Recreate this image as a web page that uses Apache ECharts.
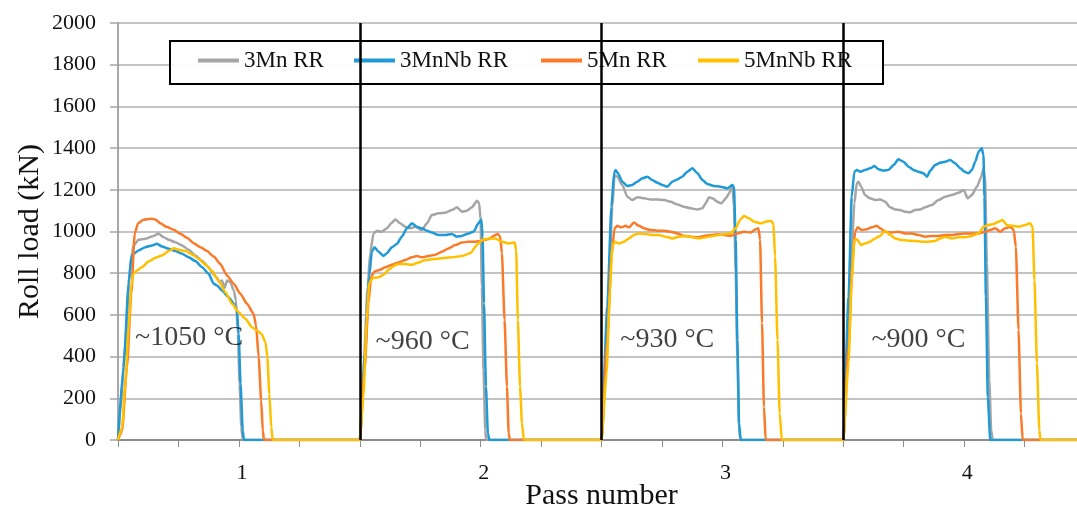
<!DOCTYPE html>
<html><head><meta charset="utf-8">
<script src="https://cdn.jsdelivr.net/npm/echarts@6/dist/echarts.min.js"></script>
<style>html,body{margin:0;padding:0;background:#fff}#c{width:1077px;height:516px}</style>
</head><body><div id="c"></div>
<script>
const seriesNames = ['3Mn RR', '3MnNb RR', '5Mn RR', '5MnNb RR'];
const passLabels = ['1', '2', '3', '4'];
const passBoundaries = [1.5, 2.5, 3.5];
const tempLabels = ['~1050 °C', '~960 °C', '~930 °C', '~900 °C'];
const tempX = [0.794, 1.760, 2.772, 3.811];
const tempY = [489, 470, 480, 480];

// 3Mn RR (grey)
const gray1 = [[0.5,0],[0.51,150],[0.53,450],[0.548,800],[0.558,900],[0.565,933],[0.585,960],[0.613,965],[0.641,976],[0.668,989],[0.689,973],[0.710,960],[0.737,949],[0.765,933],[0.792,912],[0.820,885],[0.848,858],[0.875,829],[0.896,794],[0.910,778],[0.919,757],[0.930,765],[0.941,730],[0.951,765],[0.965,757],[0.979,717],[0.988,669],[0.996,509],[1.003,269],[1.010,61],[1.016,0]];
const gray2 = [[1.5,0],[1.515,336],[1.533,736],[1.543,896],[1.557,991],[1.571,1004],[1.591,999],[1.612,1015],[1.630,1039],[1.647,1058],[1.667,1039],[1.688,1023],[1.709,1015],[1.729,1023],[1.757,1007],[1.778,1039],[1.798,1079],[1.826,1087],[1.854,1090],[1.881,1103],[1.902,1116],[1.923,1095],[1.943,1100],[1.964,1116],[1.985,1148],[1.994,1135],[2.000,1055],[2.005,736],[2.012,336],[2.019,48],[2.023,0]];
const gray3 = [[2.5,0],[2.527,640],[2.545,1119],[2.554,1271],[2.565,1263],[2.586,1223],[2.607,1167],[2.627,1151],[2.648,1164],[2.676,1159],[2.703,1154],[2.731,1154],[2.759,1151],[2.786,1143],[2.814,1130],[2.841,1119],[2.869,1111],[2.897,1106],[2.917,1111],[2.931,1135],[2.945,1164],[2.959,1159],[2.979,1143],[2.996,1135],[3.014,1159],[3.028,1183],[3.041,1223],[3.048,1119],[3.055,800],[3.062,400],[3.069,60],[3.074,0]];
const gray4 = [[3.5,0],[3.528,688],[3.546,1135],[3.556,1231],[3.563,1239],[3.574,1215],[3.590,1175],[3.611,1159],[3.632,1151],[3.653,1154],[3.673,1143],[3.694,1116],[3.715,1106],[3.735,1103],[3.756,1095],[3.777,1092],[3.797,1103],[3.818,1106],[3.839,1116],[3.866,1127],[3.894,1151],[3.922,1167],[3.949,1175],[3.977,1186],[3.998,1199],[4.015,1159],[4.032,1175],[4.053,1215],[4.071,1263],[4.080,1303],[4.087,1247],[4.094,847],[4.104,288],[4.112,48],[4.118,0]];

// 3MnNb RR (blue)
const blue1 = [[0.5,0],[0.523,349],[0.544,749],[0.555,877],[0.565,893],[0.585,909],[0.613,925],[0.641,933],[0.661,941],[0.682,928],[0.710,917],[0.737,906],[0.765,893],[0.792,877],[0.820,858],[0.848,829],[0.875,797],[0.896,749],[0.910,741],[0.930,717],[0.958,685],[0.979,653],[0.992,621],[0.999,509],[1.007,269],[1.016,45],[1.021,0]];
const blue2 = [[1.5,0],[1.522,416],[1.539,784],[1.550,903],[1.561,924],[1.578,903],[1.598,883],[1.612,896],[1.633,924],[1.653,940],[1.674,975],[1.695,1015],[1.716,1039],[1.736,1023],[1.757,1015],[1.778,1004],[1.798,995],[1.826,983],[1.854,983],[1.881,988],[1.902,975],[1.923,979],[1.943,988],[1.971,999],[1.991,1039],[2.003,1058],[2.008,975],[2.014,656],[2.022,256],[2.030,32],[2.036,0]];
const blue3 = [[2.5,0],[2.524,640],[2.541,1119],[2.552,1279],[2.558,1295],[2.568,1279],[2.586,1239],[2.607,1218],[2.627,1223],[2.648,1239],[2.669,1255],[2.690,1263],[2.710,1247],[2.731,1234],[2.752,1223],[2.772,1215],[2.793,1239],[2.814,1250],[2.834,1263],[2.855,1287],[2.876,1303],[2.897,1279],[2.917,1247],[2.938,1228],[2.965,1218],[2.993,1215],[3.021,1207],[3.041,1223],[3.048,1215],[3.055,959],[3.062,480],[3.069,80],[3.076,0]];
const blue4 = [[3.5,0],[3.522,688],[3.535,1167],[3.546,1287],[3.556,1295],[3.570,1287],[3.590,1295],[3.611,1303],[3.629,1314],[3.646,1298],[3.666,1292],[3.687,1295],[3.708,1319],[3.728,1346],[3.749,1335],[3.770,1311],[3.791,1295],[3.811,1287],[3.832,1279],[3.846,1263],[3.860,1292],[3.880,1319],[3.901,1330],[3.922,1335],[3.942,1343],[3.963,1327],[3.984,1303],[4.002,1287],[4.018,1279],[4.032,1295],[4.046,1335],[4.060,1383],[4.073,1399],[4.080,1367],[4.084,1167],[4.090,688],[4.098,208],[4.108,0]];

// 5Mn RR (orange)
const orange1 = [[0.5,0],[0.517,45],[0.537,349],[0.555,701],[0.569,989],[0.583,1040],[0.606,1056],[0.634,1061],[0.654,1058],[0.675,1040],[0.703,1021],[0.730,1008],[0.758,989],[0.785,970],[0.813,944],[0.841,925],[0.868,906],[0.896,880],[0.923,845],[0.951,789],[0.979,749],[1.006,701],[1.034,653],[1.061,605],[1.071,549],[1.082,397],[1.092,189],[1.099,45],[1.104,0]];
const orange2 = [[1.5,0],[1.520,336],[1.536,656],[1.547,784],[1.561,808],[1.584,816],[1.605,828],[1.633,840],[1.660,851],[1.688,863],[1.716,876],[1.736,883],[1.757,876],[1.785,883],[1.812,888],[1.840,903],[1.867,919],[1.895,935],[1.923,947],[1.950,951],[1.978,951],[2.005,956],[2.033,964],[2.054,979],[2.071,988],[2.081,975],[2.088,896],[2.099,576],[2.109,256],[2.116,32],[2.121,0]];
const orange3 = [[2.5,0],[2.524,480],[2.541,880],[2.554,1015],[2.565,1027],[2.582,1020],[2.600,1027],[2.614,1020],[2.634,1043],[2.655,1027],[2.676,1015],[2.703,1007],[2.731,1004],[2.759,1004],[2.786,999],[2.814,991],[2.841,979],[2.869,975],[2.897,972],[2.924,979],[2.952,983],[2.979,987],[3.007,983],[3.034,979],[3.062,991],[3.090,999],[3.117,995],[3.138,1011],[3.149,1015],[3.156,959],[3.164,560],[3.172,160],[3.179,0]];
const orange4 = [[3.5,0],[3.522,448],[3.538,847],[3.549,999],[3.560,1020],[3.577,1007],[3.597,1011],[3.618,1020],[3.639,1027],[3.653,1015],[3.673,999],[3.701,995],[3.728,999],[3.756,991],[3.784,991],[3.811,983],[3.839,975],[3.866,979],[3.894,979],[3.922,983],[3.949,983],[3.977,988],[4.004,991],[4.032,991],[4.060,991],[4.087,999],[4.108,1007],[4.129,1015],[4.149,999],[4.170,1015],[4.191,1023],[4.205,1007],[4.214,927],[4.225,528],[4.235,128],[4.242,0]];

// 5MnNb RR (yellow)
const yellow1 = [[0.5,0],[0.517,61],[0.530,269],[0.544,541],[0.555,733],[0.562,794],[0.579,813],[0.599,829],[0.627,856],[0.654,874],[0.682,885],[0.710,906],[0.730,920],[0.751,912],[0.779,906],[0.806,890],[0.834,869],[0.861,842],[0.889,810],[0.916,765],[0.944,709],[0.972,653],[0.999,613],[1.027,581],[1.054,541],[1.075,525],[1.093,509],[1.110,469],[1.118,397],[1.126,221],[1.134,61],[1.140,0]];
const yellow2 = [[1.5,0],[1.515,208],[1.529,576],[1.539,752],[1.553,776],[1.578,780],[1.598,792],[1.619,816],[1.640,835],[1.660,844],[1.688,844],[1.716,840],[1.743,851],[1.771,863],[1.798,867],[1.840,872],[1.881,876],[1.923,883],[1.957,896],[1.985,935],[2.005,959],[2.033,967],[2.060,967],[2.088,951],[2.116,943],[2.141,947],[2.147,911],[2.154,576],[2.163,256],[2.171,80],[2.179,0]];
const yellow3 = [[2.5,0],[2.521,320],[2.535,720],[2.545,927],[2.554,951],[2.572,943],[2.593,951],[2.614,967],[2.634,983],[2.655,991],[2.683,988],[2.710,983],[2.738,983],[2.765,975],[2.793,967],[2.821,975],[2.848,979],[2.876,972],[2.903,967],[2.931,972],[2.959,979],[2.986,983],[3.014,988],[3.034,991],[3.055,1015],[3.073,1055],[3.090,1074],[3.110,1063],[3.131,1047],[3.159,1039],[3.179,1047],[3.200,1052],[3.211,1039],[3.218,880],[3.228,480],[3.237,128],[3.246,0]];
const yellow4 = [[3.5,0],[3.522,368],[3.535,767],[3.546,959],[3.556,963],[3.574,935],[3.590,943],[3.611,951],[3.632,967],[3.653,979],[3.673,1004],[3.694,983],[3.715,967],[3.742,959],[3.770,956],[3.797,955],[3.825,951],[3.853,951],[3.880,955],[3.901,967],[3.922,975],[3.949,967],[3.977,972],[4.004,972],[4.032,979],[4.060,991],[4.080,1023],[4.101,1031],[4.122,1036],[4.142,1047],[4.159,1055],[4.177,1031],[4.198,1027],[4.225,1023],[4.253,1031],[4.273,1039],[4.283,1023],[4.291,767],[4.301,368],[4.311,48],[4.316,0]];

const axisEnd = [[4.5, 0]];
const colors = ['#a5a5a5', '#1f9ad6', '#fa7a2a', '#ffc000'];
const FONT = 'Liberation Serif';

const seriesData = [
  [].concat(gray1, gray2, gray3, gray4, axisEnd),
  [].concat(blue1, blue2, blue3, blue4, axisEnd),
  [].concat(orange1, orange2, orange3, orange4, axisEnd),
  [].concat(yellow1, yellow2, yellow3, yellow4, axisEnd)
];

const chart = echarts.init(document.getElementById('c'), null, {renderer: 'canvas'});

const series = seriesNames.map((name, i) => ({
  name, type: 'line', data: seriesData[i], showSymbol: false, symbol: 'none',
  smooth: 0.2, smoothMonotone: 'x',
  lineStyle: {color: colors[i], width: 2.5}, itemStyle: {color: colors[i]},
  z: 2, silent: true
}));
series[0].markLine = {
  silent: true, symbol: ['none', 'none'], label: {show: false},
  lineStyle: {color: '#000', width: 2.5, type: 'solid'},
  data: passBoundaries.map(v => ({xAxis: v}))
};
series.push({
  type: 'scatter', silent: true, symbolSize: 0, z: 5,
  data: tempX.map((x, i) => [x, tempY[i], tempLabels[i]]),
  label: {show: true, position: 'inside', formatter: p => p.value[2],
    fontFamily: FONT, fontSize: 28, color: '#111'}
});

const legendLefts = [198, 354, 541, 698];
const legends = seriesNames.map((n, i) => ({
  data: [n], left: legendLefts[i], top: 49, padding: 0, icon: 'rect',
  itemWidth: 41, itemHeight: 4, itemGap: 0, selectedMode: false,
  textStyle: {fontFamily: FONT, fontSize: 23, color: '#111', padding: [0, 0, 0, 0]}
}));

chart.setOption({
  animation: false,
  backgroundColor: '#fff',
  color: colors,
  grid: {left: 118, right: -8, top: 23, bottom: 76, containLabel: false, outerBoundsMode: 'none'},
  legend: legends,
  graphic: [{
    type: 'rect', z: 3, left: 169, top: 40,
    shape: {width: 713, height: 43},
    style: {fill: 'rgba(255,255,255,0.92)', stroke: '#000', lineWidth: 2}
  }],
  xAxis: {
    type: 'value', min: 0.5, max: 4.5, interval: 0.25,
    name: 'Pass number', nameLocation: 'middle', nameGap: 41, nameMoveOverlap: false,
    nameTextStyle: {fontFamily: FONT, fontSize: 30, color: '#111', verticalAlign: 'top'},
    axisLine: {show: true, onZero: false, lineStyle: {color: '#8c8c8c', width: 2}},
    axisTick: {show: true, length: 7, lineStyle: {color: '#8c8c8c', width: 1}},
    axisLabel: {
      margin: 22, fontFamily: FONT, fontSize: 22, color: '#111', padding: [0, 0, 0, 6],
      formatter: v => {
        const k = Math.round(v);
        return Math.abs(v - k) < 1e-6 && k >= 1 && k <= passLabels.length ? passLabels[k - 1] : '';
      }
    },
    splitLine: {show: false}
  },
  yAxis: {
    type: 'value', min: 0, max: 2000, interval: 200,
    name: 'Roll load (kN)', nameLocation: 'middle', nameGap: 73, nameRotate: 90, nameMoveOverlap: false,
    nameTextStyle: {fontFamily: FONT, fontSize: 30, color: '#111'},
    axisLine: {show: true, lineStyle: {color: '#8c8c8c', width: 1.5}},
    axisTick: {show: true, length: 8, lineStyle: {color: '#a6a6a6', width: 1.5}},
    axisLabel: {margin: 22, fontFamily: FONT, fontSize: 22, color: '#111',
      formatter: v => String(v)},
    splitLine: {show: true, lineStyle: {color: '#b0b0b0', width: 1.5}}
  },
  series
});
</script>
</body></html>
